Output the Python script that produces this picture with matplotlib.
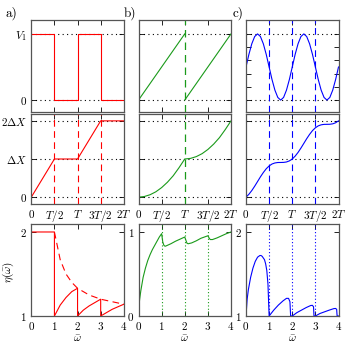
import numpy as np
import matplotlib.pyplot as plt

plt.rcParams['font.family'] = 'serif'
plt.rcParams['font.serif'] = ['cmr10']
plt.rcParams['mathtext.fontset'] = 'cm'
plt.rcParams['axes.unicode_minus'] = False

# colours of the three columns
colors = ['#ff0000', '#1a9a1a', '#0000ff']

# --- top row: driving signal V(t), t in units of T, V in units of V1
t_sq = [0, 0.5, 0.5, 1, 1, 1.5, 1.5, 2]
v_sq = [1, 1, 0, 0, 1, 1, 0, 0]

t_saw1 = [0, 1]
v_saw1 = [0, 1]
t_saw2 = [1, 2]
v_saw2 = [0, 1]

t_sin = [i / 16 for i in range(33)]
v_sin = [0.5, 0.69, 0.85, 0.96, 1.0, 0.96, 0.85, 0.69, 0.5, 0.31, 0.15, 0.04, 0.0, 0.04, 0.15, 0.31,
         0.5, 0.69, 0.85, 0.96, 1.0, 0.96, 0.85, 0.69, 0.5, 0.31, 0.15, 0.04, 0.0, 0.04, 0.15, 0.31, 0.5]

# --- middle row: displacement X(t) in units of dX
t_xa = [0, 0.5, 1, 1.5, 2]
x_a = [0, 1, 1, 2, 2]

t_xb = [i / 8 for i in range(17)]
x_b = [0, 0.016, 0.063, 0.14, 0.25, 0.39, 0.56, 0.77, 1.0,
       1.016, 1.063, 1.14, 1.25, 1.39, 1.56, 1.77, 2.0]

t_xc = t_sin
x_c = [0, 0.075, 0.172, 0.286, 0.409, 0.533, 0.646, 0.744, 0.818, 0.869, 0.896, 0.908, 0.909, 0.911, 0.922, 0.95,
       1.0, 1.075, 1.172, 1.286, 1.409, 1.533, 1.646, 1.744, 1.818, 1.869, 1.896, 1.908, 1.909, 1.911, 1.922, 1.95, 2.0]

# --- bottom row: efficiency eta(omega)
om_a = [0, 1, 1, 1.25, 1.5, 1.75, 2, 2, 2.25, 2.5, 2.75, 3, 3, 3.25, 3.5, 3.75, 4]
eta_a = [2, 2, 1, 1.13, 1.22, 1.29, 1.33, 1, 1.07, 1.12, 1.16, 1.2, 1, 1.04, 1.08, 1.11, 1.14]
om_a_env = [1, 1.25, 1.5, 1.75, 2, 2.5, 3, 3.5, 4]
eta_a_env = [2, 1.67, 1.5, 1.4, 1.33, 1.25, 1.2, 1.17, 1.14]

om_b = [0, 0.02, 0.05, 0.1, 0.2, 0.3, 0.4, 0.5, 0.6, 0.7, 0.8, 0.9, 1.0, 1.05, 1.1, 1.15, 1.2, 1.4, 1.6, 1.8, 2.0,
        2.05, 2.1, 2.15, 2.3, 2.5, 2.7, 2.9, 3.0, 3.05, 3.1, 3.2, 3.4, 3.6, 3.8, 4.0]
eta_b = [0, 0.12, 0.2, 0.3, 0.46, 0.57, 0.66, 0.73, 0.79, 0.84, 0.89, 0.94, 0.98, 0.88, 0.84, 0.83, 0.835, 0.86,
         0.89, 0.915, 0.94, 0.9, 0.865, 0.86, 0.87, 0.895, 0.925, 0.945, 0.955, 0.93, 0.91, 0.91, 0.93, 0.955, 0.98, 1.0]

om_c = [0, 0.05, 0.1, 0.2, 0.3, 0.4, 0.5, 0.6, 0.65, 0.7, 0.8, 0.85, 0.9, 0.95, 0.98, 1.0, 1.2, 1.4, 1.6, 1.75,
        1.84, 1.9, 1.93, 2.0, 2.2, 2.4, 2.6, 2.8, 2.87, 2.92, 2.94, 3.0, 3.2, 3.4, 3.6, 3.8, 3.87, 3.92, 3.94, 4.0]
eta_c = [1, 1.2, 1.31, 1.46, 1.57, 1.65, 1.7, 1.72, 1.72, 1.71, 1.67, 1.62, 1.54, 1.38, 1.15, 1, 1.07, 1.13, 1.18,
         1.21, 1.21, 1.17, 1, 1, 1.04, 1.07, 1.1, 1.125, 1.127, 1.11, 1, 1, 1.03, 1.05, 1.07, 1.088, 1.09, 1.08, 1, 1]

t_ticks = [0, 0.5, 1, 1.5, 2]
t_labels = ['$0$', '$T/2$', '$T$', '$3T/2$', '$2T$']
om_ticks = [0, 1, 2, 3, 4]

fig = plt.figure(figsize=(3.51, 3.51), dpi=100)
W = 351.0
lefts = [31.3, 138.5, 246.0]
width = 92.5


def box(x0, y0, w, h):
    return [x0 / W, 1 - (y0 + h) / W, w / W, h / W]


def style(ax):
    for s in ax.spines.values():
        s.set_color('#555555')
        s.set_linewidth(0.9)
    ax.tick_params(direction='in', length=3.5, width=0.6, top=True, right=True, labelsize=8, pad=3)


fs = 8
for i in range(3):
    c = colors[i]
    ax1 = fig.add_axes(box(lefts[i], 20, width, 92))
    ax2 = fig.add_axes(box(lefts[i], 114, width, 90))
    ax3 = fig.add_axes(box(lefts[i], 224, width, 92))
    for ax in (ax1, ax2, ax3):
        style(ax)

    # top: V(t)
    for yv in (0, 1):
        ax1.axhline(yv, color='k', ls=(0, (1, 3)), lw=0.8)
    ax1.set_xlim(0, 2)
    ax1.set_ylim(-0.18, 1.21)
    ax1.set_xticks(t_ticks)
    ax1.set_xticklabels([])
    # middle: X(t)
    for yv in (0, 1, 2):
        ax2.axhline(yv, color='k', ls=(0, (1, 3)), lw=0.8)
    ax2.set_xlim(0, 2)
    ax2.set_ylim(-0.18, 2.18)
    ax2.set_xticks(t_ticks)
    ax2.set_xticklabels(t_labels, fontsize=fs)
    # bottom: eta
    ax3.set_xlim(0, 4)
    ax3.set_xticks(om_ticks)
    ax3.set_xticklabels(['$%d$' % v for v in om_ticks], fontsize=fs)
    ax3.set_xlabel(r'$\bar{\omega}$', fontsize=fs, labelpad=1)

    if i == 0:
        ax1.plot(t_sq, v_sq, color=c, lw=0.8)
        ax1.set_yticks([0, 1])
        ax1.set_yticklabels(['$0$', '$V_1$'], fontsize=fs)
        for tv in (0.5, 1, 1.5):
            ax2.axvline(tv, color=c, ls=(0, (6, 4)), lw=0.8)
        ax2.plot(t_xa, x_a, color=c, lw=0.8)
        ax2.set_yticks([0, 1, 2])
        ax2.set_yticklabels(['$0$', r'$\Delta X$', r'$2\Delta X$'], fontsize=fs)
        ax3.plot(om_a, eta_a, color=c, lw=0.8)
        ax3.plot(om_a_env, eta_a_env, color=c, lw=0.8, ls=(0, (6, 4)))
        ax3.set_ylim(1, 2.095)
        ax3.set_yticks([1, 2])
        ax3.set_yticklabels(['$1$', '$2$'], fontsize=fs)
    elif i == 1:
        ax1.plot(t_saw1, v_saw1, color=c, lw=0.8)
        ax1.plot(t_saw2, v_saw2, color=c, lw=0.8)
        for ax in (ax1, ax2):
            ax.axvline(1, color=c, ls=(0, (6, 4)), lw=0.9)
        ax2.plot(t_xb, x_b, color=c, lw=0.8)
        ax1.set_yticks([0, 1])
        ax1.set_yticklabels([])
        ax2.set_yticks([0, 1, 2])
        ax2.set_yticklabels([])
        for ov in (1, 2, 3):
            ax3.axvline(ov, color=c, ls=(0, (1, 2)), lw=0.8)
        ax3.plot(om_b, eta_b, color=c, lw=0.8)
        ax3.set_ylim(0, 1.095)
        ax3.set_yticks([0, 1])
        ax3.set_yticklabels(['$0$', '$1$'], fontsize=fs)
    else:
        for ax in (ax1, ax2):
            for tv in (0.5, 1, 1.5):
                ax.axvline(tv, color=c, ls=(0, (6, 4)), lw=0.8)
        ax1.plot(t_sin, v_sin, color=c, lw=0.8)
        ax1.set_yticks([0, 0.2, 0.4, 0.6, 0.8, 1])
        ax1.set_yticklabels([])
        ax2.plot(t_xc, x_c, color=c, lw=0.8)
        ax2.set_yticks([0, 1, 2])
        ax2.set_yticklabels([])
        for ov in (1, 2, 3):
            ax3.axvline(ov, color=c, ls=(0, (1, 2)), lw=0.8)
        ax3.plot(om_c, eta_c, color=c, lw=0.8)
        ax3.set_ylim(1, 2.095)
        ax3.set_yticks([1, 2])
        ax3.set_yticklabels(['$1$', '$2$'], fontsize=fs)

fig.text(5 / W, 1 - 13 / W, 'a)', fontsize=9.5, va='center')
fig.text(124 / W, 1 - 13 / W, 'b)', fontsize=9.5, va='center')
fig.text(233 / W, 1 - 13 / W, 'c)', fontsize=9.5, va='center')
fig.text(8 / W, 1 - 272 / W, r'$\eta(\bar{\omega})$', fontsize=fs, rotation=90, ha='center', va='center')

fig.savefig('out.png', dpi=100)
